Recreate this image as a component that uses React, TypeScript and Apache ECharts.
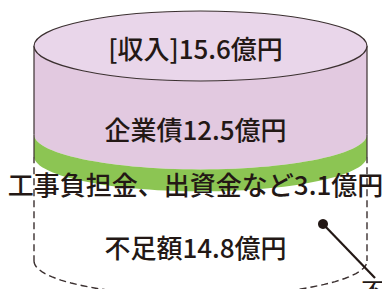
import { useEffect, useRef } from "react";
import * as echarts from "echarts";

const segmentNames = ["企業債", "工事負担金、出資金など", "不足額"];
const segmentValues = [12.5, 3.1, 14.8];
const incomeLabel = "[収入]";
const incomeTotal = 15.6;
const unit = "億円";
const calloutText = "不";

const TEXT = "#231815";
const LINE = "#3b3030";
const TOP_FILL = "#e9d6ea";
const BODY_FILL = "#e2c9e0";
const GREEN = "#8cc553";
const FONT = "'Noto Sans CJK JP', 'Noto Sans', sans-serif";
const FONT_SPEC = `500 26px ${FONT}`;

export default function App() {
  const ref = useRef<HTMLDivElement>(null);
  useEffect(() => {
    const chart = echarts.init(ref.current!, null, { renderer: "svg" });
    let acc = 0;
    const data = segmentValues.map((v, i) => {
      const s = acc;
      acc += v;
      return [i, s, acc, v];
    });
    const total = acc;
    const RY = 35;
    const N = 60;

    const renderItem = (params: any, api: any) => {
      const cs = params.coordSys;
      const x0 = cs.x;
      const x1 = cs.x + cs.width;
      const cx = (x0 + x1) / 2;
      const rx = cs.width / 2;
      const idx = api.value(0);
      const yTop = api.coord([0, api.value(1)])[1];
      const yBot = api.coord([0, api.value(2)])[1];
      const arc = (yc: number, reverse: boolean) => {
        const pts: number[][] = [];
        for (let t = 0; t <= N; t++) {
          const th = Math.PI - (Math.PI * t) / N;
          pts.push([cx + rx * Math.cos(th), yc + RY * Math.sin(th)]);
        }
        return reverse ? pts.reverse() : pts;
      };
      const children: any[] = [];
      const labelX = cx - 5;
      const labelY = (yTop + yBot) / 2 + RY + 3;
      const label = segmentNames[idx] + api.value(3).toFixed(1) + unit;
      if (idx < 2) {
        children.push({
          type: "polygon",
          shape: { points: arc(yBot, false).concat(arc(yTop, true)) },
          style: { fill: idx === 0 ? BODY_FILL : GREEN, stroke: null },
          z2: 1,
        });
        children.push({
          type: "line",
          shape: { x1: x0, y1: yTop, x2: x0, y2: yBot },
          style: { stroke: LINE, lineWidth: 1.2 },
          z2: 5,
        });
        children.push({
          type: "line",
          shape: { x1: x1, y1: yTop, x2: x1, y2: yBot },
          style: { stroke: LINE, lineWidth: 1.2 },
          z2: 5,
        });
      } else {
        children.push({
          type: "polyline",
          shape: { points: arc(yBot, false) },
          style: { fill: null, stroke: LINE, lineWidth: 1.4, lineDash: [7, 4] },
          z2: 5,
        });
        children.push({
          type: "line",
          shape: { x1: x0, y1: yTop, x2: x0, y2: yBot },
          style: { stroke: LINE, lineWidth: 1.4, lineDash: [7, 4] },
          z2: 5,
        });
        children.push({
          type: "line",
          shape: { x1: x1, y1: yTop, x2: x1, y2: yBot },
          style: { stroke: LINE, lineWidth: 1.4, lineDash: [7, 4] },
          z2: 5,
        });
      }
      if (idx === 0) {
        children.push({
          type: "ellipse",
          shape: { cx, cy: yTop, rx, ry: RY },
          style: { fill: TOP_FILL, stroke: LINE, lineWidth: 1.2 },
          z2: 10,
        });
        children.push({
          type: "text",
          x: labelX,
          y: yTop + 1,
          style: {
            text: incomeLabel + incomeTotal.toFixed(1) + unit,
            fill: TEXT,
            font: FONT_SPEC,
            align: "center",
            verticalAlign: "middle",
          },
          z2: 100,
        });
      }
      children.push({
        type: "text",
        x: labelX,
        y: labelY,
        style: {
          text: label,
          fill: TEXT,
          font: FONT_SPEC,
          align: "center",
          verticalAlign: "middle",
        },
        z2: 100,
      });
      return { type: "group", children };
    };

    chart.setOption({
      animation: false,
      grid: { left: 34, right: 15, top: 46, bottom: 28 },
      xAxis: { type: "value", min: 0, max: 1, show: false },
      yAxis: { type: "value", min: 0, max: total, inverse: true, show: false },
      series: [
        {
          type: "custom",
          renderItem,
          data,
          clip: false,
          encode: { x: 0, y: [1, 2] },
        },
      ],
      graphic: [
        {
          type: "line",
          shape: { x1: 323, y1: 224, x2: 375, y2: 278 },
          style: { stroke: TEXT, lineWidth: 2.2 },
          z: 20,
        },
        {
          type: "circle",
          shape: { cx: 323, cy: 224, r: 5 },
          style: { fill: TEXT },
          z: 20,
        },
        {
          type: "text",
          x: 361,
          y: 277,
          style: { text: calloutText, fill: TEXT, font: `24px ${FONT}` },
          z: 20,
        },
      ],
    });
    return () => chart.dispose();
  }, []);
  return (
    <div
      ref={ref}
      style={{ position: "absolute", left: 0, top: 0, width: 382, height: 289 }}
    />
  );
}
